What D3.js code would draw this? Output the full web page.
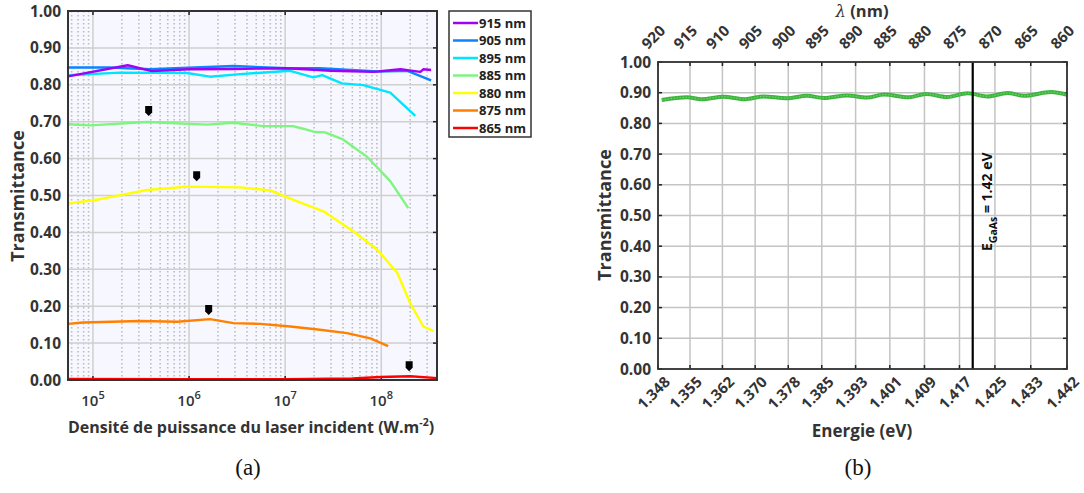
<!DOCTYPE html>
<html lang="fr">
<head>
    <meta charset="utf-8" />
    <title>Transmittance</title>
    <style type="text/css">
        body{ margin:0; background:#fff; }
        svg{ font-family: "Open Sans", Lato, sans-serif; font-weight:bold; }
    </style>
</head>
<body>

<script src="https://cdn.jsdelivr.net/npm/d3@7"></script>

<script>
// ---- (a) données : [densité de puissance (W.m-2), transmittance]
var t915 = [[5.5e4,.823],[2.3e5,.853],[4.1e5,.837],[1e6,.842],[3e6,.843],[1.05e7,.845],[3e7,.838],[8.3e7,.835],[1.58e8,.842],[2.55e8,.835],[2.74e8,.842],[3.3e8,.84]];
var t905 = [[5.5e4,.847],[1.5e5,.847],[3.9e5,.842],[2.9e6,.851],[1.05e7,.845],[2.3e7,.845],[9.1e7,.836],[1.87e8,.838],[3.3e8,.812]];
var t895 = [[5.5e4,.826],[1.9e5,.833],[9.5e5,.832],[1.65e6,.822],[3.4e6,.829],[1.13e7,.838],[1.96e7,.82],[2.43e7,.826],[3.9e7,.804],[6.5e7,.799],[1.24e8,.779],[2.26e8,.716]];
var t885 = [[5.5e4,.693],[9.3e4,.690],[3.65e5,.699],[1.54e6,.692],[2.9e6,.697],[5.9e6,.688],[1.2e7,.688],[1.54e7,.681],[2.05e7,.672],[2.6e7,.671],[4e7,.652],[7.1e7,.605],[1.24e8,.539],[1.91e8,.466]];
var t880 = [[5.5e4,.478],[1.18e5,.49],[3.65e5,.515],[9.5e5,.524],[3.4e6,.522],[7e6,.514],[1.2e7,.489],[2.5e7,.457],[5.1e7,.403],[9.1e7,.353],[1.47e8,.29],[2e8,.208],[2.74e8,.145],[3.48e8,.133]];
var t875 = [[5.5e4,.152],[7.9e4,.156],[3.1e5,.16],[7.5e5,.158],[1.65e6,.165],[2.9e6,.154],[5.5e6,.152],[1.13e7,.145],[2.3e7,.136],[4.4e7,.127],[7.7e7,.113],[1.18e8,.092]];
var t865 = [[5.5e4,.003],[1e6,.002],[1e7,.002],[5e7,.004],[9.8e7,.008],[2e8,.010],[3.83e8,.005]];
var seriesNames = ["915 nm","905 nm","895 nm","885 nm","880 nm","875 nm","865 nm"];
var seriesColors = ["#a000f5","#0a84ff","#00e5ff","#7ef57e","#ffff00","#ff8000","#ff0000"];
var markers = [[3.8e5,.729],[1.2e6,.552],[1.6e6,.19],[1.95e8,.037]];
var yTicks = [0,.1,.2,.3,.4,.5,.6,.7,.8,.9,1];

// ---- (b) données : énergie (eV), transmittance
var energie = [1.3485,1.3543,1.3577,1.3627,1.3677,1.3719,1.3773,1.3819,1.3857,1.3911,1.3957,1.3996,1.4053,1.4092,1.4142,1.4188,1.4234,1.4280,1.4318,1.4380,1.4417];
var transB  = [0.876,0.885,0.879,0.887,0.879,0.888,0.882,0.890,0.883,0.891,0.884,0.894,0.885,0.896,0.886,0.898,0.888,0.899,0.890,0.902,0.893];
var lambdaTicks = [920,915,910,905,900,895,890,885,880,875,870,865,860];
var eGaAs = 1.42;

var svg = d3.select("body").append("svg")
    .attr("width", 1084)
    .attr("height", 493);

// =================== (a) ===================
var ga = svg.append("g");
var xa = d3.scaleLog().domain([5.5e4, 3.8e8]).range([68, 437]);
var ya = d3.scaleLinear().domain([0, 1]).range([380, 11]);

ga.append("rect").attr("x",68).attr("y",11).attr("width",369).attr("height",369).attr("fill","#f7f7ff");

var decades = [1e5,1e6,1e7,1e8];
var minors = [];
[1e4,1e5,1e6,1e7,1e8].forEach(function(d){
    for (var k=2;k<=9;k++){ var v=d*k; if (v>xa.domain()[0] && v<xa.domain()[1]) minors.push(v); }
});
ga.append("g").selectAll("line").data(minors).enter().append("line")
    .attr("x1",d=>xa(d)).attr("x2",d=>xa(d)).attr("y1",11).attr("y2",380)
    .attr("stroke","#bdbdbd").attr("stroke-width",1.6).attr("stroke-dasharray","1.6,2.4");
ga.append("g").selectAll("line").data(decades).enter().append("line")
    .attr("x1",d=>xa(d)).attr("x2",d=>xa(d)).attr("y1",11).attr("y2",380)
    .attr("stroke","#cfcfcf").attr("stroke-width",1.5);
ga.append("g").selectAll("line").data(yTicks).enter().append("line")
    .attr("x1",68).attr("x2",437).attr("y1",d=>ya(d)).attr("y2",d=>ya(d))
    .attr("stroke","#cfcfcf").attr("stroke-width",1.5);

// petites graduations
ga.append("g").selectAll("line").data(yTicks).enter().append("line")
    .attr("x1",433).attr("x2",437).attr("y1",d=>ya(d)).attr("y2",d=>ya(d))
    .attr("stroke","#222").attr("stroke-width",1.5);
ga.append("g").selectAll("line").data(decades).enter().append("line")
    .attr("x1",d=>xa(d)).attr("x2",d=>xa(d)).attr("y1",11).attr("y2",15)
    .attr("stroke","#222").attr("stroke-width",1.5);
ga.append("g").selectAll("line").data(decades).enter().append("line")
    .attr("x1",d=>xa(d)).attr("x2",d=>xa(d)).attr("y1",376).attr("y2",380)
    .attr("stroke","#222").attr("stroke-width",1.5);

var linea = d3.line().x(d=>xa(d[0])).y(d=>ya(d[1]));
var allSeries = [t915,t905,t895,t885,t880,t875,t865];
// dessiner du bas vers le haut (915 nm au-dessus)
for (var i=allSeries.length-1;i>=0;i--){
    ga.append("path").datum(allSeries[i])
        .attr("fill","none").attr("stroke",seriesColors[i]).attr("stroke-width",2.4)
        .attr("stroke-linejoin","round")
        .attr("d",linea);
}

// marqueurs noirs
ga.append("g").selectAll("path").data(markers).enter().append("path")
    .attr("transform",d=>"translate("+xa(d[0])+","+ya(d[1])+")")
    .attr("d","M-3.5,-5 L3.5,-5 L3.5,1.5 L0,5 L-3.5,1.5 Z")
    .attr("fill","#000");

ga.append("rect").attr("x",68).attr("y",11).attr("width",369).attr("height",369)
    .attr("fill","none").attr("stroke","#333").attr("stroke-width",2);

// axes textes
ga.append("g").selectAll("text").data(yTicks).enter().append("text")
    .attr("x",61).attr("y",d=>ya(d)).attr("dy","0.36em")
    .attr("text-anchor","end").attr("font-size",15.5).attr("fill","#333")
    .text(d=>d3.format(".2f")(d));
var xl = ga.append("g").selectAll("text").data(decades).enter().append("text")
    .attr("x",d=>xa(d)).attr("y",406)
    .attr("text-anchor","middle").attr("font-size",15).attr("fill","#333")
    .attr("font-weight","600");
xl.append("tspan").text("10");
xl.append("tspan").attr("dy",-7).attr("font-size",11).text(d=>Math.round(Math.log10(d)));

ga.append("text").attr("transform","translate(24,196) rotate(-90)")
    .attr("text-anchor","middle").attr("font-size",18).attr("fill","#333")
    .text("Transmittance");
var xt = ga.append("text").attr("x",251).attr("y",433)
    .attr("text-anchor","middle").attr("font-size",16).attr("fill","#333");
xt.append("tspan").text("Densité de puissance du laser incident (W.m");
xt.append("tspan").attr("dy",-7).attr("font-size",10.5).text("-2");
xt.append("tspan").attr("dy",7).text(")");

// légende
var lg = ga.append("g");
lg.append("rect").attr("x",449).attr("y",11).attr("width",82).attr("height",126)
    .attr("fill","#fff").attr("stroke","#333").attr("stroke-width",1.5);
seriesNames.forEach(function(n,i){
    var yy = 23 + i*17.5;
    lg.append("line").attr("x1",453).attr("x2",478).attr("y1",yy).attr("y2",yy)
        .attr("stroke",seriesColors[i]).attr("stroke-width",2.5);
    lg.append("text").attr("x",479).attr("y",yy).attr("dy","0.36em")
        .attr("font-size",13).attr("fill","#222").text(n);
});

// =================== (b) ===================
var gb = svg.append("g");
var hc = 1239.84;
var xb = d3.scaleLinear().domain([hc/920, hc/860]).range([658, 1067]);
var yb = d3.scaleLinear().domain([0, 1]).range([369, 62]);
var eTicks = lambdaTicks.map(l=>hc/l);

gb.append("g").selectAll("line").data(eTicks).enter().append("line")
    .attr("x1",d=>xb(d)).attr("x2",d=>xb(d)).attr("y1",62).attr("y2",369)
    .attr("stroke","#c4c4c4").attr("stroke-width",1.5);
gb.append("g").selectAll("line").data(yTicks).enter().append("line")
    .attr("x1",658).attr("x2",1067).attr("y1",d=>yb(d)).attr("y2",d=>yb(d))
    .attr("stroke","#c4c4c4").attr("stroke-width",1.5);
// graduations intérieures
[[658,662],[1063,1067]].forEach(function(s){
    gb.append("g").selectAll("line").data(yTicks).enter().append("line")
        .attr("x1",s[0]).attr("x2",s[1]).attr("y1",d=>yb(d)).attr("y2",d=>yb(d))
        .attr("stroke","#222").attr("stroke-width",1.5);
});
[[62,66],[365,369]].forEach(function(s){
    gb.append("g").selectAll("line").data(eTicks).enter().append("line")
        .attr("x1",d=>xb(d)).attr("x2",d=>xb(d)).attr("y1",s[0]).attr("y2",s[1])
        .attr("stroke","#222").attr("stroke-width",1.5);
});

var lineb = d3.line().curve(d3.curveMonotoneX).x((d,i)=>xb(energie[i])).y(d=>yb(d));
gb.append("path").datum(transB)
    .attr("fill","none").attr("stroke","#3db53d").attr("stroke-width",4)
    .attr("d",lineb);
gb.append("path").datum(transB)
    .attr("fill","none").attr("stroke","#6fd06f").attr("stroke-width",1.2)
    .attr("stroke-dasharray","1.5,1.5")
    .attr("d",lineb);

gb.append("line").attr("x1",xb(eGaAs)).attr("x2",xb(eGaAs)).attr("y1",62).attr("y2",369)
    .attr("stroke","#000").attr("stroke-width",2.2);
var el = gb.append("text").attr("transform","translate("+(xb(eGaAs)+19)+",251) rotate(-90)")
    .attr("font-size",14).attr("fill","#111");
el.append("tspan").text("E");
el.append("tspan").attr("dy",5).attr("font-size",10.5).text("GaAs");
el.append("tspan").attr("dy",-5).text(" = 1.42 eV");

gb.append("rect").attr("x",658).attr("y",62).attr("width",409).attr("height",307)
    .attr("fill","none").attr("stroke","#333").attr("stroke-width",1.8);

gb.append("g").selectAll("text").data(yTicks).enter().append("text")
    .attr("x",651).attr("y",d=>yb(d)).attr("dy","0.36em")
    .attr("text-anchor","end").attr("font-size",15.5).attr("fill","#333")
    .text(d=>d3.format(".2f")(d));
gb.append("g").selectAll("text").data(eTicks).enter().append("text")
    .attr("transform",d=>"translate("+(xb(d)+5)+",375) rotate(-45)")
    .attr("dy","0.75em")
    .attr("text-anchor","end").attr("font-size",15).attr("fill","#333")
    .text(d=>d3.format(".3f")(d));
gb.append("g").selectAll("text").data(lambdaTicks).enter().append("text")
    .attr("transform",d=>"translate("+(xb(hc/d)-10)+",50) rotate(-45)")
    .attr("text-anchor","start").attr("font-size",15).attr("fill","#333")
    .text(d=>d);

gb.append("text").attr("transform","translate(611,215) rotate(-90)")
    .attr("text-anchor","middle").attr("font-size",18).attr("fill","#333")
    .text("Transmittance");
gb.append("text").attr("x",862).attr("y",437)
    .attr("text-anchor","middle").attr("font-size",17).attr("fill","#333")
    .text("Energie (eV)");
var lt = gb.append("text").attr("x",862).attr("y",17)
    .attr("text-anchor","middle").attr("font-size",16.5).attr("fill","#333");
lt.append("tspan").attr("font-family","'DejaVu Serif', serif").attr("font-style","italic").attr("font-weight","normal").text("λ");
lt.append("tspan").text(" (nm)");

// légendes (a) et (b)
svg.append("text").attr("x",248).attr("y",475).attr("text-anchor","middle")
    .attr("font-family","'Liberation Serif', serif").attr("font-weight","normal")
    .attr("font-size",23).attr("fill","#111").text("(a)");
svg.append("text").attr("x",858).attr("y",475).attr("text-anchor","middle")
    .attr("font-family","'Liberation Serif', serif").attr("font-weight","normal")
    .attr("font-size",23).attr("fill","#111").text("(b)");
</script>

</body>
</html>
